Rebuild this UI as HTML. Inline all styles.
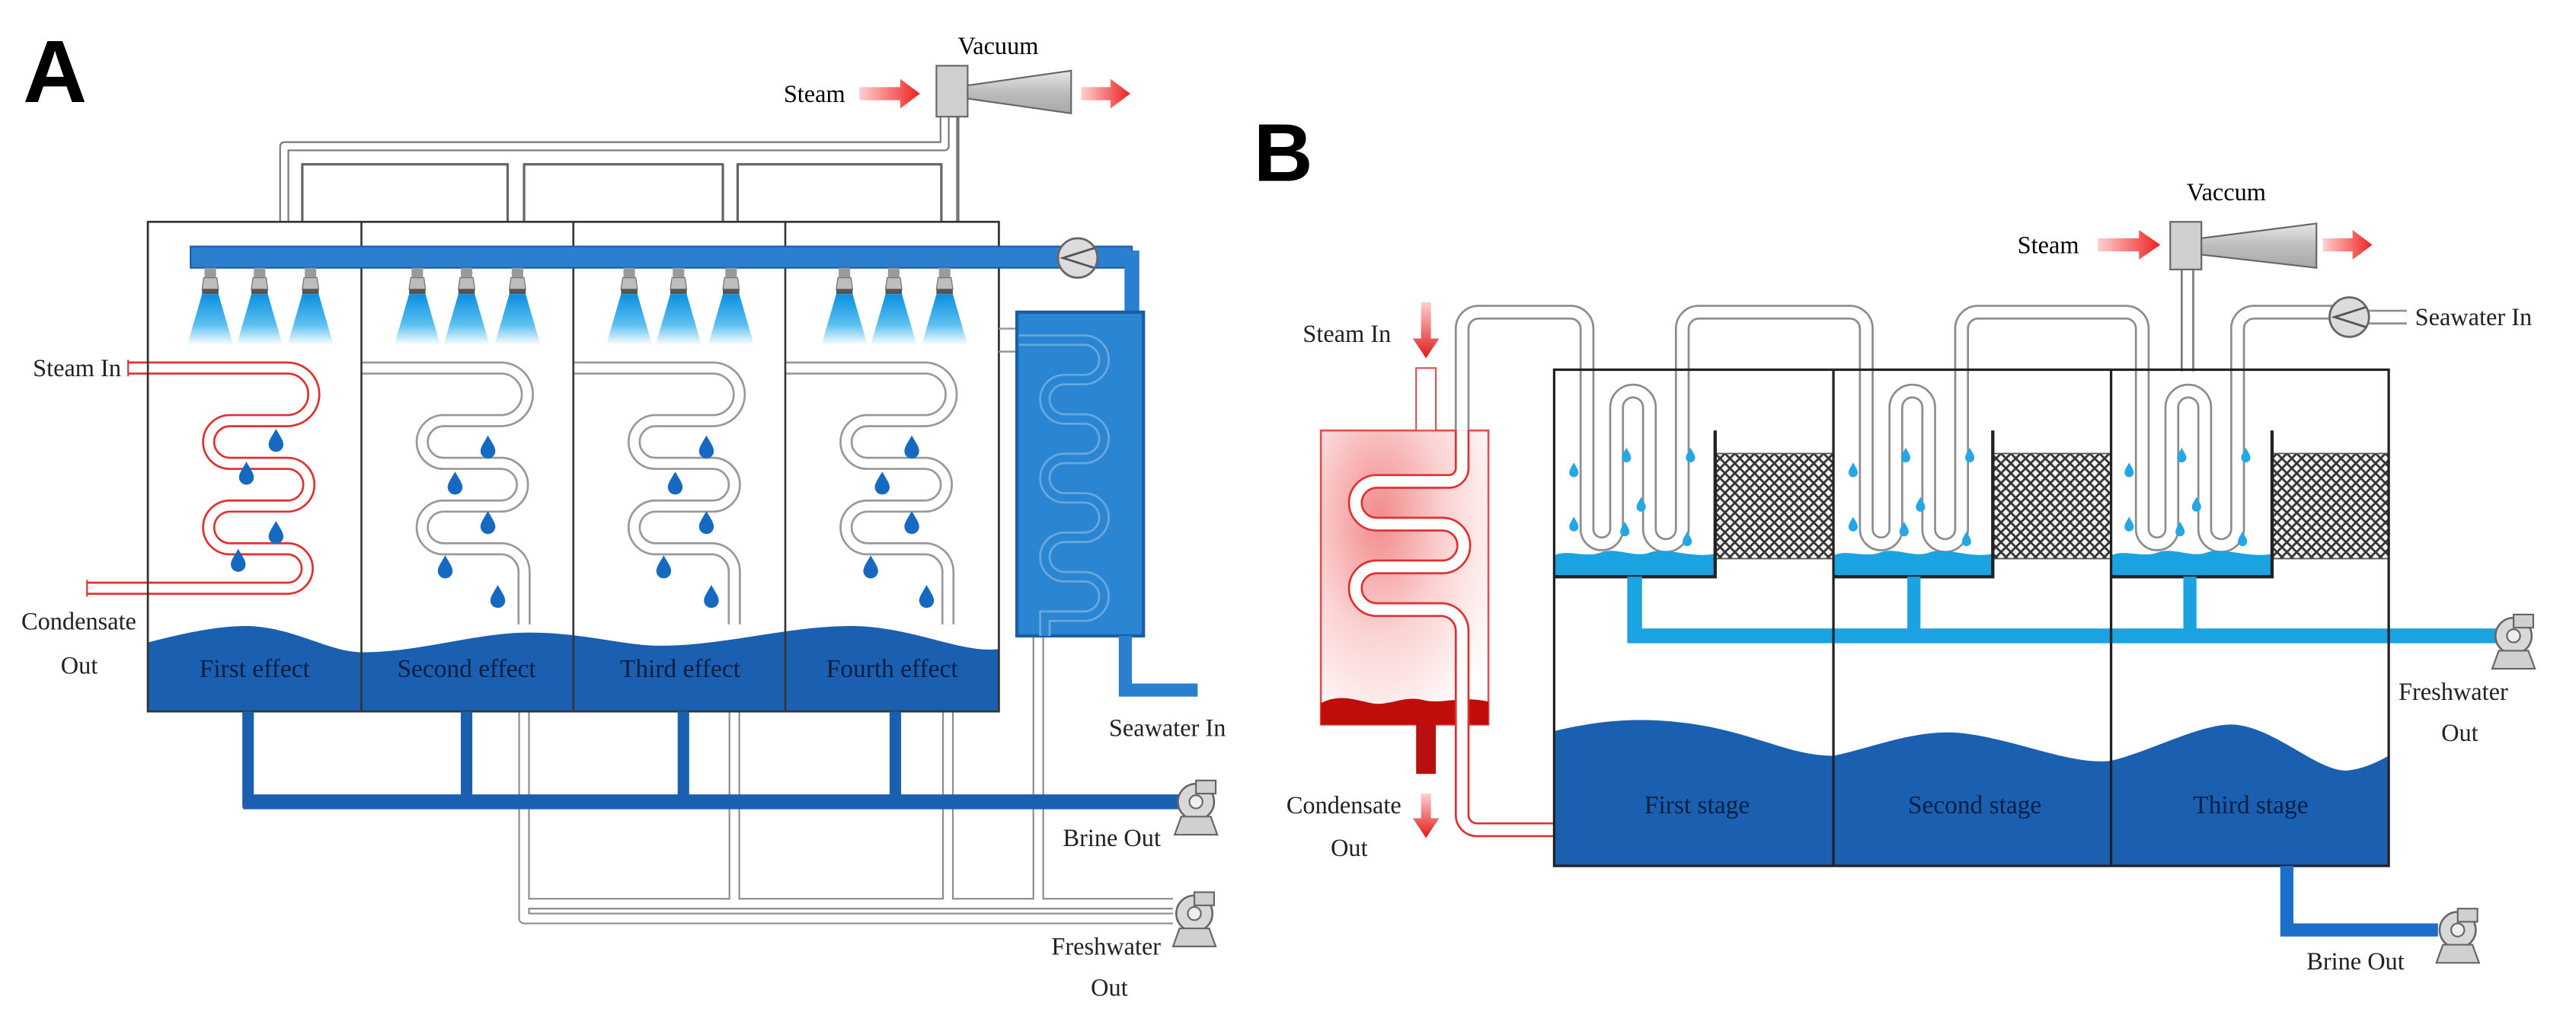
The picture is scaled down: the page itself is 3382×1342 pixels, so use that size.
<!DOCTYPE html>
<html><head><meta charset="utf-8"><style>
html,body{margin:0;padding:0;background:#fff;}
svg{display:block;}
text{font-family:"Liberation Serif",serif;}
</style></head><body>
<svg width="3382" height="1342" viewBox="0 0 1568 622" preserveAspectRatio="none" xmlns="http://www.w3.org/2000/svg">
<defs>
<linearGradient id="spray" x1="0" y1="0" x2="0" y2="1"><stop offset="0" stop-color="#0b8fe0"/><stop offset="0.6" stop-color="#5cc0f0"/><stop offset="1" stop-color="#ffffff"/></linearGradient>
<linearGradient id="rarrow" x1="0" y1="0" x2="1" y2="0"><stop offset="0" stop-color="#ffd0d0"/><stop offset="1" stop-color="#ee2020"/></linearGradient>
<linearGradient id="rarrowD" x1="0" y1="0" x2="0" y2="1"><stop offset="0" stop-color="#ffd0d0"/><stop offset="1" stop-color="#e01818"/></linearGradient>
<linearGradient id="cone" x1="0" y1="0" x2="0" y2="1"><stop offset="0" stop-color="#e6e6e6"/><stop offset="0.5" stop-color="#bdbdbd"/><stop offset="1" stop-color="#a8a8a8"/></linearGradient>
<radialGradient id="heat" cx="0.35" cy="0.3" r="0.8"><stop offset="0" stop-color="#f28a8a"/><stop offset="0.5" stop-color="#fbd3d3"/><stop offset="1" stop-color="#ffffff"/></radialGradient>
<pattern id="mesh" width="6" height="6" patternUnits="userSpaceOnUse"><rect width="6" height="6" fill="#f4f4f4"/><path d="M0 0L6 6M6 0L0 6" stroke="#333" stroke-width="1.3"/></pattern>
<g id="drop"><path d="M0 -7 C2.5 -2.5 4.5 0 4.5 2.5 A4.5 4.5 0 0 1 -4.5 2.5 C-4.5 0 -2.5 -2.5 0 -7Z" fill="#1669c0"/></g>
<g id="dropL"><path d="M0 -4.5 C1.6 -1.6 2.8 0 2.8 1.6 A2.8 2.8 0 0 1 -2.8 1.6 C-2.8 0 -1.6 -1.6 0 -4.5Z" fill="#25a6e6"/></g>
<g id="nozzle"><rect x="-3.5" y="163" width="7" height="6" fill="#9a9a9a"/><polygon points="-4,169 4,169 5,176 -5,176" fill="#bdbdbd" stroke="#777" stroke-width="0.6"/><rect x="-5" y="176" width="10" height="3" fill="#555"/><polygon points="-5,179 5,179 14,210 -14,210" fill="url(#spray)"/></g>
<g id="cpump"><circle cx="0" cy="0" r="11" fill="#d8d8d8" stroke="#666" stroke-width="1.2"/><circle cx="0" cy="0" r="4" fill="#eee" stroke="#666" stroke-width="1"/><rect x="0" y="-13" width="12" height="8" fill="#d0d0d0" stroke="#666" stroke-width="1"/><polygon points="-9,9 9,9 13,20 -13,20" fill="#d0d0d0" stroke="#666" stroke-width="1"/></g>
<g id="rpump"><circle cx="0" cy="0" r="12" fill="#dcdcdc" stroke="#666" stroke-width="1.3"/><path d="M10 -6 L-9 0 L10 6" fill="none" stroke="#555" stroke-width="1.3"/></g>
</defs>

<!-- ================= PANEL A ================= -->
<text x="14" y="62" font-weight="bold" font-size="54" style="font-family:'Liberation Sans',sans-serif">A</text>
<text x="583" y="33" font-size="15">Vacuum</text>
<text x="477" y="62" font-size="15">Steam</text>
<polygon points="523,53 548,53 548,48 560,57 548,66 548,61 523,61" fill="url(#rarrow)"/>
<polygon points="658,53 676,53 676,48 688,57 676,66 676,61 658,61" fill="url(#rarrow)"/>
<g fill="none" stroke-linejoin="round">
<path d="M173 135 V89 H575 V71" stroke="#777" stroke-width="6"/>
<path d="M173 135 V89 H575 V71" stroke="#fff" stroke-width="4"/>
<path d="M583 71 V150" stroke="#777" stroke-width="2"/>
<path d="M184 135 V100 H309 V135 M319 135 V100 H440 V135 M449 135 V100 H573 V135" stroke="#666" stroke-width="1.5"/>
</g>
<rect x="570" y="40" width="19" height="31" fill="#cfcfcf" stroke="#666" stroke-width="1"/>
<polygon points="589,52 652,43 652,69 589,60" fill="url(#cone)" stroke="#666" stroke-width="1"/>

<g fill="none" stroke-linejoin="round" stroke-linecap="butt">
<g stroke="#8c8c8c" stroke-width="7">
<path d="M319 340 V559 H714"/><path d="M447 360 V550"/><path d="M577 360 V550"/><path d="M632 387 V550"/><path d="M319 550 H714"/>
</g>
<g stroke="#fff" stroke-width="5">
<path d="M319 340 V559 H714"/><path d="M447 360 V550"/><path d="M577 360 V550"/><path d="M632 387 V550"/><path d="M319 550 H714"/>
</g>
</g>

<rect x="90" y="135" width="518" height="298" fill="#fff" stroke="#444" stroke-width="1.2"/>
<path d="M90 391 C110 386 130 381 151 381 C180 382 200 397 221 397 C255 397 290 385 322 385 C355 385 380 393 402 393 C440 393 480 381 518 381 C555 381 585 398 608 395 V433 H90Z" fill="#1b5fb0"/>
<g fill="none" stroke-linejoin="round">
<g stroke="#999" stroke-width="8">
<path d="M220 224 H305 A16 16 0 0 1 305 256 H270 A13 13 0 0 0 270 282 H305 A13 13 0 0 1 305 308 H270 A13 13 0 0 0 270 334 H305 A14 14 0 0 1 319 348 V380"/>
<path d="M349 224 H434 A16 16 0 0 1 434 256 H399 A13 13 0 0 0 399 282 H434 A13 13 0 0 1 434 308 H399 A13 13 0 0 0 399 334 H434 A14 14 0 0 1 447 348 V380"/>
<path d="M478 224 H563 A16 16 0 0 1 563 256 H528 A13 13 0 0 0 528 282 H563 A13 13 0 0 1 563 308 H528 A13 13 0 0 0 528 334 H563 A14 14 0 0 1 577 348 V380"/>
</g>
<g stroke="#fff" stroke-width="5.5">
<path d="M220 224 H305 A16 16 0 0 1 305 256 H270 A13 13 0 0 0 270 282 H305 A13 13 0 0 1 305 308 H270 A13 13 0 0 0 270 334 H305 A14 14 0 0 1 319 348 V380"/>
<path d="M349 224 H434 A16 16 0 0 1 434 256 H399 A13 13 0 0 0 399 282 H434 A13 13 0 0 1 434 308 H399 A13 13 0 0 0 399 334 H434 A14 14 0 0 1 447 348 V380"/>
<path d="M478 224 H563 A16 16 0 0 1 563 256 H528 A13 13 0 0 0 528 282 H563 A13 13 0 0 1 563 308 H528 A13 13 0 0 0 528 334 H563 A14 14 0 0 1 577 348 V380"/>
</g>
<path d="M78 224 H175 A16 16 0 0 1 175 256 H140 A13 13 0 0 0 140 282 H175 A13 13 0 0 1 175 308 H140 A13 13 0 0 0 140 334 H175 A12 12 0 0 1 175 358 H53" stroke="#e03030" stroke-width="8"/>
<path d="M78 224 H175 A16 16 0 0 1 175 256 H140 A13 13 0 0 0 140 282 H175 A13 13 0 0 1 175 308 H140 A13 13 0 0 0 140 334 H175 A12 12 0 0 1 175 358 H53" stroke="#fff" stroke-width="5.5"/>
<path d="M78 219 V229 M53 353 V363" stroke="#e03030" stroke-width="1"/>
</g>
<path d="M220 135 V433 M349 135 V433 M478 135 V433" stroke="#333" stroke-width="1.2"/>
<rect x="90" y="135" width="518" height="298" fill="none" stroke="#333" stroke-width="1.2"/>
<use href="#drop" x="168" y="268"/><use href="#drop" x="150" y="288"/><use href="#drop" x="168" y="324"/><use href="#drop" x="145" y="341"/>
<use href="#drop" x="297" y="272"/><use href="#drop" x="277" y="294"/><use href="#drop" x="297" y="318"/><use href="#drop" x="271" y="345"/><use href="#drop" x="303" y="363"/>
<use href="#drop" x="430" y="272"/><use href="#drop" x="411" y="294"/><use href="#drop" x="430" y="318"/><use href="#drop" x="404" y="345"/><use href="#drop" x="433" y="363"/>
<use href="#drop" x="555" y="272"/><use href="#drop" x="537" y="294"/><use href="#drop" x="555" y="318"/><use href="#drop" x="530" y="345"/><use href="#drop" x="564" y="363"/>
<rect x="116" y="150" width="573" height="13" fill="#2a7fcf" stroke="#1a5ea8" stroke-width="1"/>
<path d="M681 157 H689 V191" stroke="#2a7fcf" stroke-width="9" fill="none"/>
<use href="#rpump" x="656" y="157"/>
<use href="#nozzle" x="128"/><use href="#nozzle" x="158"/><use href="#nozzle" x="189"/>
<use href="#nozzle" x="254"/><use href="#nozzle" x="284"/><use href="#nozzle" x="315"/>
<use href="#nozzle" x="383"/><use href="#nozzle" x="413"/><use href="#nozzle" x="445"/>
<use href="#nozzle" x="514"/><use href="#nozzle" x="544"/><use href="#nozzle" x="575"/>
<path d="M608 200 H620 M608 214 H620" stroke="#999" stroke-width="1.2"/>
<rect x="619" y="190" width="77" height="197" fill="#2a86d2" stroke="#1a5ea8" stroke-width="2"/>
<path d="M620 207 H660 A12 12 0 0 1 660 231 H648 A12 12 0 0 0 648 255 H660 A12 12 0 0 1 660 279 H648 A12 12 0 0 0 648 303 H660 A12 12 0 0 1 660 327 H648 A12 12 0 0 0 648 351 H660 A12 12 0 0 1 660 375 H636 V387" fill="none" stroke="#6aa8dc" stroke-width="7"/>
<path d="M620 207 H660 A12 12 0 0 1 660 231 H648 A12 12 0 0 0 648 255 H660 A12 12 0 0 1 660 279 H648 A12 12 0 0 0 648 303 H660 A12 12 0 0 1 660 327 H648 A12 12 0 0 0 648 351 H660 A12 12 0 0 1 660 375 H636 V387" fill="none" stroke="#2a86d2" stroke-width="4.5"/>
<path d="M685 387 V420 H729" fill="none" stroke="#2a7fcf" stroke-width="8"/>
<g stroke="#1b5fb0" stroke-width="7" fill="none">
<path d="M151 433 V488 H719"/><path d="M284 433 V488"/><path d="M416 433 V488"/><path d="M545 433 V488"/>
</g>
<path d="M148 488 H719" stroke="#1b5fb0" stroke-width="9"/>
<use href="#cpump" x="728" y="488"/>
<use href="#cpump" x="727" y="556"/>
<g font-size="15" fill="#222">
<text x="20" y="229">Steam In</text>
<text x="13" y="383">Condensate</text>
<text x="37" y="410">Out</text>
<text x="675" y="448">Seawater In</text>
<text x="647" y="515">Brine Out</text>
<text x="640" y="581">Freshwater</text>
<text x="664" y="606">Out</text>
</g>
<g font-size="15.5" fill="#071f45" text-anchor="middle">
<text x="155" y="412">First effect</text>
<text x="284" y="412">Second effect</text>
<text x="414" y="412">Third effect</text>
<text x="543" y="412">Fourth effect</text>
</g>

<!-- ================= PANEL B ================= -->
<text x="763" y="110" font-weight="bold" font-size="50" style="font-family:'Liberation Sans',sans-serif">B</text>
<text x="1331" y="122" font-size="15">Vaccum</text>
<text x="1228" y="154" font-size="15">Steam</text>
<polygon points="1277,145 1302,145 1302,140 1315,149 1302,158 1302,153 1277,153" fill="url(#rarrow)"/>
<polygon points="1414,145 1432,145 1432,140 1444,149 1432,158 1432,153 1414,153" fill="url(#rarrow)"/>
<path d="M1328 164 V226 M1335 164 V226" stroke="#777" stroke-width="1.2"/>
<rect x="1321" y="135" width="19" height="29" fill="#cfcfcf" stroke="#666" stroke-width="1"/>
<polygon points="1340,145 1410,136 1410,163 1340,155" fill="url(#cone)" stroke="#666" stroke-width="1"/>
<rect x="804" y="262" width="102" height="179" fill="url(#heat)" stroke="#e05050" stroke-width="1.2"/>
<path d="M804 428 C815 422 825 426 835 428 C845 430 855 423 866 426 C878 429 888 423 906 427 V441 H804Z" fill="#c10c0c"/>
<rect x="862" y="224" width="12" height="38" fill="#fff" stroke="#e05050" stroke-width="1"/>
<polygon points="865,184 871,184 871,206 876,206 868,218 860,206 865,206" fill="url(#rarrowD)"/>
<rect x="862" y="441" width="12" height="30" fill="#b80f0f"/>
<polygon points="865,483 871,483 871,498 876,498 868,510 860,498 865,498" fill="url(#rarrowD)"/>
<g fill="none" stroke-linejoin="round">
<g stroke="#8c8c8c" stroke-width="9">
<path d="M890 262 V200 A10 10 0 0 1 900 190 H956 A10 10 0 0 1 966 200 V322 A9 9 0 0 0 984 322 V248 A10 10 0 0 1 1004 248 V322 A10 10 0 0 0 1024 322 V200 A10 10 0 0 1 1034 190 H1126 A10 10 0 0 1 1136 200 V322 A9 9 0 0 0 1154 322 V248 A10 10 0 0 1 1174 248 V322 A10 10 0 0 0 1194 322 V200 A10 10 0 0 1 1204 190 H1294 A10 10 0 0 1 1304 200 V322 A9 9 0 0 0 1322 322 V248 A10 10 0 0 1 1342 248 V322 A10 10 0 0 0 1362 322 V200 A10 10 0 0 1 1372 190 H1420"/>
</g>
<g stroke="#fff" stroke-width="6.5">
<path d="M890 262 V200 A10 10 0 0 1 900 190 H956 A10 10 0 0 1 966 200 V322 A9 9 0 0 0 984 322 V248 A10 10 0 0 1 1004 248 V322 A10 10 0 0 0 1024 322 V200 A10 10 0 0 1 1034 190 H1126 A10 10 0 0 1 1136 200 V322 A9 9 0 0 0 1154 322 V248 A10 10 0 0 1 1174 248 V322 A10 10 0 0 0 1194 322 V200 A10 10 0 0 1 1204 190 H1294 A10 10 0 0 1 1304 200 V322 A9 9 0 0 0 1322 322 V248 A10 10 0 0 1 1342 248 V322 A10 10 0 0 0 1362 322 V200 A10 10 0 0 1 1372 190 H1420"/>
</g>
<path d="M1442 193 H1465" stroke="#8c8c8c" stroke-width="9"/>
<path d="M1442 193 H1465" stroke="#fff" stroke-width="6.5"/>
<path d="M890 262 V285 A8 8 0 0 1 882 293 H838 A13 13 0 0 0 838 319 H878 A13 13 0 0 1 878 345 H838 A13 13 0 0 0 838 371 H878 A13 13 0 0 1 890 384 V496 A9 9 0 0 0 899 505 H946" stroke="#e03030" stroke-width="9"/>
<path d="M890 262 V285 A8 8 0 0 1 882 293 H838 A13 13 0 0 0 838 319 H878 A13 13 0 0 1 878 345 H838 A13 13 0 0 0 838 371 H878 A13 13 0 0 1 890 384 V496 A9 9 0 0 0 899 505 H946" stroke="#fff" stroke-width="6.5"/>
</g>
<use href="#rpump" x="1430" y="193"/>
<path d="M946 445 C975 438 1000 436 1033 441 C1070 447 1090 460 1116 460 C1140 455 1165 444 1192 446 C1225 449 1260 466 1285 463 C1310 457 1340 440 1360 441 C1385 443 1410 469 1428 469 C1440 468 1450 462 1454 460 V527 H946Z" fill="#1b5fb0"/>
<g>
<path d="M946 338 C955 334 965 340 975 336 C985 333 995 340 1005 336 C1015 333 1030 340 1044 337 V351 H946Z" fill="#1aa3e0"/>
<path d="M1116 338 C1125 334 1135 340 1145 336 C1155 333 1165 340 1175 336 C1185 333 1200 340 1213 337 V351 H1116Z" fill="#1aa3e0"/>
<path d="M1285 338 C1294 334 1304 340 1314 336 C1324 333 1334 340 1344 336 C1354 333 1370 340 1383 337 V351 H1285Z" fill="#1aa3e0"/>
<rect x="1044" y="276" width="72" height="64" fill="url(#mesh)" stroke="#555" stroke-width="0.8"/>
<rect x="1213" y="276" width="72" height="64" fill="url(#mesh)" stroke="#555" stroke-width="0.8"/>
<rect x="1383" y="276" width="71" height="64" fill="url(#mesh)" stroke="#555" stroke-width="0.8"/>
<path d="M946 351 H1044 V262 M1116 351 H1213 V262 M1285 351 H1383 V262" fill="none" stroke="#222" stroke-width="2"/>
</g>
<g stroke="#1aa3e0" fill="none">
<path d="M995 351 V387 H1520" stroke-width="9"/>
<path d="M1165 351 V387 M1333 351 V387" stroke-width="8"/>
</g>
<use href="#cpump" x="1530" y="387"/>
<g>
<use href="#dropL" x="958" y="286"/><use href="#dropL" x="990" y="277"/><use href="#dropL" x="1029" y="277"/><use href="#dropL" x="999" y="307"/><use href="#dropL" x="958" y="319"/><use href="#dropL" x="989" y="322"/><use href="#dropL" x="1027" y="328"/>
<use href="#dropL" x="1128" y="286"/><use href="#dropL" x="1160" y="277"/><use href="#dropL" x="1199" y="277"/><use href="#dropL" x="1169" y="307"/><use href="#dropL" x="1128" y="319"/><use href="#dropL" x="1159" y="322"/><use href="#dropL" x="1197" y="328"/>
<use href="#dropL" x="1296" y="286"/><use href="#dropL" x="1328" y="277"/><use href="#dropL" x="1367" y="277"/><use href="#dropL" x="1337" y="307"/><use href="#dropL" x="1296" y="319"/><use href="#dropL" x="1327" y="322"/><use href="#dropL" x="1365" y="328"/>
</g>
<rect x="946" y="225" width="508" height="302" fill="none" stroke="#222" stroke-width="1.5"/>
<path d="M1116 225 V527 M1285 225 V527" stroke="#222" stroke-width="1.5"/>
<path d="M1392 527 V566 H1484" fill="none" stroke="#1b6fc8" stroke-width="8"/>
<use href="#cpump" x="1496" y="566"/>
<g font-size="15" fill="#222">
<text x="793" y="208">Steam In</text>
<text x="783" y="495">Condensate</text>
<text x="810" y="521">Out</text>
<text x="1470" y="198">Seawater In</text>
<text x="1460" y="426">Freshwater</text>
<text x="1486" y="451">Out</text>
<text x="1404" y="590">Brine Out</text>
</g>
<g font-size="15.5" fill="#071f45" text-anchor="middle">
<text x="1033" y="495">First stage</text>
<text x="1202" y="495">Second stage</text>
<text x="1370" y="495">Third stage</text>
</g>
</svg>
</body></html>
